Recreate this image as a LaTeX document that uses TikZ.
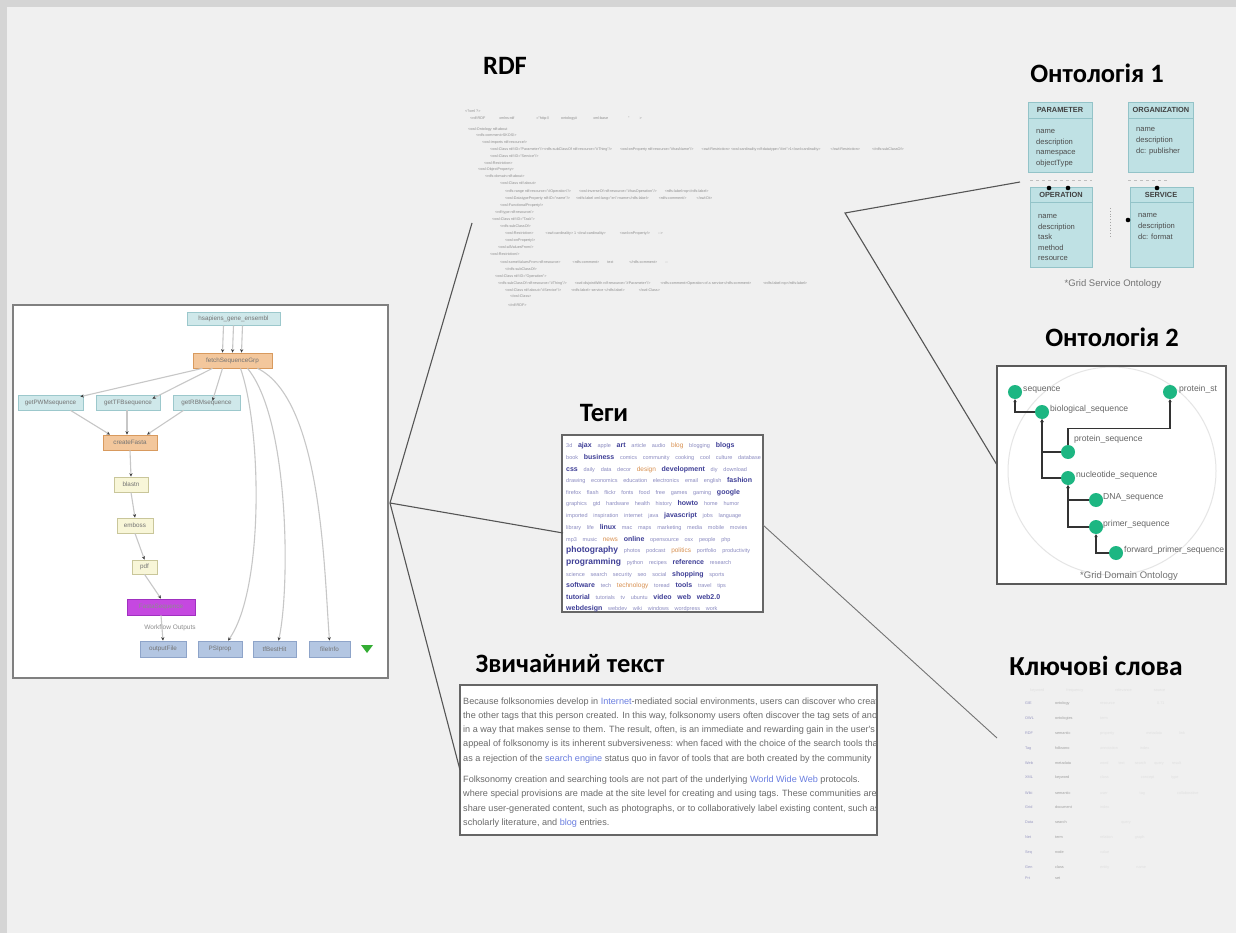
\documentclass[tikz,border=0pt]{standalone}
\usepackage{fontspec}
\setmainfont{Carlito}
\newfontfamily\sans{Liberation Sans}
\usetikzlibrary{arrows.meta}
\definecolor{bgc}{HTML}{F0F0F0}
\definecolor{framec}{HTML}{D5D5D5}
\definecolor{linec}{HTML}{555555}
\definecolor{cyanf}{HTML}{CFE8EA}
\definecolor{cyand}{HTML}{9CC8CC}
\definecolor{orf}{HTML}{F3C79C}
\definecolor{ord}{HTML}{D89A5E}
\definecolor{yelf}{HTML}{F8F6D8}
\definecolor{yeld}{HTML}{C9C69A}
\definecolor{magf}{HTML}{C548E0}
\definecolor{magd}{HTML}{A030C0}
\definecolor{bluf}{HTML}{B3C6E2}
\definecolor{blud}{HTML}{8EA4C9}
\definecolor{umlf}{HTML}{BFE1E4}
\definecolor{umld}{HTML}{93C3C8}
\definecolor{ontg}{HTML}{1DB682}
\definecolor{tagl}{HTML}{8A8AC0}
\definecolor{tagd}{HTML}{3E3E96}
\definecolor{tago}{HTML}{D89050}
\definecolor{linkc}{HTML}{6A7EE0}
\definecolor{txtc}{HTML}{6A6A6A}
\newcommand\tga[1]{{\fontsize{5.5}{5.5}\selectfont\color{tagl}#1}\hspace{3pt}}
\newcommand\tgb[1]{{\fontsize{7}{7}\selectfont\bfseries\color{tagd}#1}\hspace{3pt}}
\newcommand\tgc[1]{{\fontsize{8.5}{8.5}\selectfont\bfseries\color{tagd}#1}\hspace{3pt}}
\newcommand\tgo[1]{{\fontsize{6.5}{6.5}\selectfont\color{tago}#1}\hspace{3pt}}
\newcommand\lnk[1]{{\color{linkc}#1}}
\tikzset{
  title/.style={font=\fontsize{26.5}{30}\selectfont\bfseries, inner sep=0, anchor=base},
  hubline/.style={draw=linec, line width=1.1pt},
  wfnode/.style={draw, line width=0.7pt, inner sep=0, font=\sans\fontsize{6.3}{7}\selectfont, text=black!55},
  wfedge/.style={draw=black!22, line width=1.1pt, -{Stealth[length=3.5pt,width=3.2pt,color=black!75]}},
  uml/.style={draw=umld, fill=umlf, line width=0.8pt},
  umlt/.style={font=\sans\fontsize{7.6}{8}\selectfont, text=black!70, inner sep=0, anchor=base west},
  umlh/.style={font=\sans\bfseries\fontsize{7.4}{8}\selectfont, text=black!75, inner sep=0, anchor=base},
  oedge/.style={draw=black!80, line width=1.3pt, -{Stealth[length=3pt,width=3.5pt]}},
  onode/.style={circle, fill=ontg, minimum size=14pt, inner sep=0},
  olab/.style={font=\sans\fontsize{8.6}{9}\selectfont, text=black!60, inner sep=0, anchor=base west},
  rdft/.style={font=\sans\fontsize{3.7}{4}\selectfont, text=black!45, inner sep=0, anchor=base west},
  kwa/.style={font=\sans\fontsize{3.8}{4}\selectfont, text=blue!40!black!40, inner sep=0, anchor=base west},
  kwb/.style={font=\sans\fontsize{3.8}{4}\selectfont, text=black!38, inner sep=0, anchor=base west},
  kwc/.style={font=\sans\fontsize{3.8}{4}\selectfont, text=black!12, inner sep=0, anchor=base west},
  capt/.style={font=\sans\fontsize{9.5}{10}\selectfont, text=black!55, inner sep=0},
}
\begin{document}
\begin{tikzpicture}[x=1pt,y=-1pt]
\useasboundingbox (0,0) rectangle (1236,933);
\fill[framec] (0,0) rectangle (1236,933);
\fill[bgc] (7,7) rectangle (1236,933);

% ---------- titles ----------
\node[title] (tRDF) at (505,75) {RDF};
\node[title] (tO1) at (1097,83) {Онтологія 1};
\node[title] (tO2) at (1112,346) {Онтологія 2};
\node[title] (tTag) at (604,421) {Теги};
\node[title] (tTxt) at (570,672) {Звичайний текст};
\node[title, font=\fontsize{27.5}{30}\selectfont\bfseries] (tKw) at (1096,675) {Ключові слова};

% ---------- left workflow panel ----------
\node[draw=black!50, fill=white, line width=1.8pt, minimum width=375pt, minimum height=373pt, inner sep=0] (wf) at (200.5,491.5) {};
\node[wfnode, draw=cyand, fill=cyanf, minimum width=93pt, minimum height=13pt] (top) at (233.5,318.5) {hsapiens\_gene\_ensembl};
\node[wfnode, draw=ord, fill=orf, minimum width=79pt, minimum height=15pt] (orng) at (232.5,360.5) {fetchSequenceGrp};
\node[wfnode, draw=cyand, fill=cyanf, minimum width=65pt, minimum height=15pt] (c1) at (50.5,402.5) {getPWMsequence};
\node[wfnode, draw=cyand, fill=cyanf, minimum width=64pt, minimum height=15pt] (c2) at (128,402.5) {getTFBsequence};
\node[wfnode, draw=cyand, fill=cyanf, minimum width=67pt, minimum height=15pt] (c3) at (206.5,402.5) {getRBMsequence};
\node[wfnode, draw=ord, fill=orf, minimum width=54pt, minimum height=15pt] (fasta) at (130,442.5) {createFasta};
\node[wfnode, draw=yeld, fill=yelf, minimum width=34pt, minimum height=15pt] (blast) at (131,484.5) {blastn};
\node[wfnode, draw=yeld, fill=yelf, minimum width=36pt, minimum height=15pt] (emboss) at (135,525.5) {emboss};
\node[wfnode, draw=yeld, fill=yelf, minimum width=25pt, minimum height=14pt] (pdf) at (144.5,567) {pdf};
\node[wfnode, draw=magd, fill=magf, minimum width=68pt, minimum height=16pt, text=black!45] (mag) at (161,607) {FastaSequence};
\node[font=\sans\fontsize{6.5}{7}\selectfont, text=black!45, inner sep=0] (wfo) at (170,628) {Workflow Outputs};
\node[wfnode, draw=blud, fill=bluf, minimum width=46pt, minimum height=16pt] (o1) at (163,649) {outputFile};
\node[wfnode, draw=blud, fill=bluf, minimum width=44pt, minimum height=16pt] (o2) at (220,649) {PSIprop};
\node[wfnode, draw=blud, fill=bluf, minimum width=43pt, minimum height=16pt] (o3) at (274.5,649) {tfBestHit};
\node[wfnode, draw=blud, fill=bluf, minimum width=41pt, minimum height=16pt] (o4) at (329.5,649) {fileInfo};
\fill[green!60!black!80] (361,645) -- (373,645) -- (367,653) -- cycle;

\draw[wfedge] ([xshift=-10pt]top.south) -- ([xshift=-10pt]orng.north);
\draw[wfedge] (top.south) -- (orng.north);
\draw[wfedge] ([xshift=9pt]top.south) -- ([xshift=9pt]orng.north);
\draw[wfedge] ([xshift=-30pt]orng.south) -- ([xshift=-3pt,yshift=-2pt]c1.north east);
\draw[wfedge] ([xshift=-20pt]orng.south) -- ([xshift=-8pt,yshift=-4pt]c2.north east);
\draw[wfedge] ([xshift=-10pt]orng.south) -- ([xshift=6pt,yshift=-6pt]c3.north);
\draw[wfedge] ([xshift=20pt]c1.south) -- ([xshift=-20pt]fasta.north);
\draw[wfedge] ([xshift=-1pt]c2.south) -- ([xshift=-3pt]fasta.north);
\draw[wfedge] ([xshift=-23pt]c3.south) -- ([xshift=17pt]fasta.north);
\draw[wfedge] (fasta.south) -- (blast.north);
\draw[wfedge] (blast.south) -- (emboss.north);
\draw[wfedge] (emboss.south) -- (pdf.north);
\draw[wfedge] (pdf.south) -- (mag.north);
\draw[wfedge] (mag.south) -- (o1.north);
\draw[wfedge] ([xshift=8pt]orng.south) .. controls (262,430) and (264,590) .. ([xshift=8pt]o2.north);
\draw[wfedge] ([xshift=15pt]orng.south) .. controls (290,420) and (290,590) .. ([xshift=4pt]o3.north);
\draw[wfedge] ([xshift=25pt]orng.south) .. controls (322,400) and (324,570) .. (o4.north);

% ---------- RDF text ----------
\foreach \xx/\yy/\tt in {
 465/113/{<?xml ?>},
 470/120/{<rdf:RDF \hspace{12pt} xmlns:rdf \hspace{20pt} ="http:// \hspace{10pt} ontology\# \hspace{14pt} xml:base \hspace{18pt} " \hspace{8pt} >},
 468/131/{<owl:Ontology rdf:about},
 476/137/{<rdfs:comment>SKOS/>},
 482/144/{<owl:imports rdf:resource/>},
 490/151/{<owl:Class rdf:ID="Parameter"/><rdfs:subClassOf rdf:resource="\#Thing"/> \hspace{6pt} <owl:onProperty rdf:resource="\#hasName"/> \hspace{6pt} <owl:Restriction> <owl:cardinality rdf:datatype="\#int">1</owl:cardinality> \hspace{8pt} </owl:Restriction> \hspace{10pt} </rdfs:subClassOf>},
 490/158/{<owl:Class rdf:ID="Service"/>},
 484/165/{<owl:Restriction>},
 478/171/{<owl:ObjectProperty>},
 485/178/{<rdfs:domain rdf:about>},
 500/185/{<owl:Class rdf:about>},
 505/193/{<rdfs:range rdf:resource="\#Operation"/> \hspace{6pt} <owl:inverseOf rdf:resource="\#hasOperation"/> \hspace{6pt} <rdfs:label>op</rdfs:label>},
 505/200/{<owl:DatatypeProperty rdf:ID="name"/> \hspace{4pt} <rdfs:label xml:lang="en">name</rdfs:label> \hspace{8pt} <rdfs:comment/> \hspace{8pt} </owl:Dt>},
 500/207/{<owl:FunctionalProperty/>},
 495/214/{<rdf:type rdf:resource/>},
 492/221/{<owl:Class rdf:ID="Task">},
 500/228/{<rdfs:subClassOf>},
 505/235/{<owl:Restriction> \hspace{10pt} <owl:cardinality> 1 </owl:cardinality> \hspace{12pt} <owl:onProperty/> \hspace{6pt} -->},
 505/242/{<owl:onProperty/>},
 498/249/{<owl:allValuesFrom/>},
 490/256/{<owl:Restriction/>},
 500/263/{<owl:someValuesFrom rdf:resource> \hspace{10pt} <rdfs:comment> \hspace{6pt} text \hspace{14pt} </rdfs:comment> \hspace{6pt} --},
 505/270/{</rdfs:subClassOf>},
 495/277/{<owl:Class rdf:ID="Operation">},
 498/284/{<rdfs:subClassOf rdf:resource="\#Thing"/> \hspace{6pt} <owl:disjointWith rdf:resource="\#Parameter"/> \hspace{8pt} <rdfs:comment>Operation of a service</rdfs:comment> \hspace{10pt} <rdfs:label>op</rdfs:label>},
 505/291/{<owl:Class rdf:about="\#Service"/> \hspace{8pt} <rdfs:label> service </rdfs:label> \hspace{12pt} </owl:Class>},
 510/298/{</owl:Class>},
 508/306/{</rdf:RDF>}}
 {\node[rdft] at (\xx,\yy) {\tt};}
\coordinate (rdfIn) at (472,223);
\coordinate (rdfOut) at (845,213);

% ---------- Ontology 1 ----------
\draw[uml] (1028,102) rectangle (1092,172); \draw[umld] (1028,118) -- (1092,118);
\draw[uml] (1128,102) rectangle (1193,172); \draw[umld] (1128,118) -- (1193,118);
\draw[uml] (1030,187) rectangle (1092,267); \draw[umld] (1030,202) -- (1092,202);
\draw[uml] (1130,187) rectangle (1193,267); \draw[umld] (1130,202) -- (1193,202);
\node[umlh] at (1060,113) {PARAMETER};
\node[umlh] at (1161,113) {ORGANIZATION};
\node[umlh] at (1061,198) {OPERATION};
\node[umlh] at (1161,198) {SERVICE};
\foreach \yy/\tt in {134/name,144.5/description,155/namespace,165.5/objectType}
  {\node[umlt] at (1036,\yy) {\tt};}
\foreach \yy/\tt in {132/name,143/description,154/dc: publisher}
  {\node[umlt] at (1136,\yy) {\tt};}
\foreach \yy/\tt in {219/name,229.5/description,240/task,250.5/method,261/resource}
  {\node[umlt] at (1038,\yy) {\tt};}
\foreach \yy/\tt in {218/name,229/description,240/dc: format}
  {\node[umlt] at (1138,\yy) {\tt};}
\draw[black!25, dashed, line width=0.6pt] (1030,180) -- (1092,180);
\draw[black!25, dashed, line width=0.6pt] (1128,180) -- (1168,180);
\draw[black!35, dotted, line width=0.8pt] (1110,208) -- (1110,237);
\fill[black] (1049,188) circle (2.3pt) (1068,188) circle (2.3pt) (1157,188) circle (2.3pt) (1128,220) circle (2.3pt);
\node[capt] (cap1) at (1113,284) {*Grid Service Ontology};
\coordinate (ont1In) at (1020,182);

% ---------- Ontology 2 ----------
\node[draw=black!65, fill=white, line width=2.2pt, minimum width=229pt, minimum height=218pt, inner sep=0] (ont2) at (1111.5,475) {};
\coordinate (ont2In) at (997,465);
\begin{scope}
\clip (998,367) rectangle (1225,583);
\draw[black!10, line width=1pt] (1112,471) circle (104pt);
\node[onode] (n1) at (1015,392) {};
\node[onode] (n2) at (1042,412) {};
\node[onode] (n3) at (1170,392) {};
\node[onode] (n4) at (1068,452) {};
\node[onode] (n5) at (1068,478) {};
\node[onode] (n6) at (1096,500) {};
\node[onode] (n7) at (1096,527) {};
\node[onode] (n8) at (1116,553) {};
\draw[oedge] (n2.west) -| (n1.south);
\draw[oedge] (n4.west) -| (n2.south);
\draw[oedge] (n5.west) -| (n2.south);
\draw[oedge] (n6.west) -| (n5.south);
\draw[oedge] (n7.west) -| (n5.south);
\draw[oedge] (n8.west) -| (n7.south);
\draw[oedge] (n4.north) -- ++(0,-16) -| (n3.south);
\node[olab] at (1023,391) {sequence};
\node[olab] at (1050,411) {biological\_sequence};
\node[olab] at (1179,391) {protein\_st};
\node[olab] at (1074,441) {protein\_sequence};
\node[olab] at (1076,477) {nucleotide\_sequence};
\node[olab] at (1103,499) {DNA\_sequence};
\node[olab] at (1103,526) {primer\_sequence};
\node[olab] at (1124,552) {forward\_primer\_sequence};
\node[capt] (cap2) at (1129,576) {*Grid Domain Ontology};
\end{scope}

% ---------- tag cloud ----------
\node[draw=black!60, fill=white, line width=1.4pt, minimum width=201pt, minimum height=177pt, inner sep=0] (tags) at (662.5,523.5) {};
\begin{scope}
\clip (563,436) rectangle (762,611);
\foreach \yy/\tt in {
 447/{\tga{3d} \tgb{ajax} \tga{apple} \tgb{art} \tga{article} \tga{audio} \tgo{blog} \tga{blogging} \tgb{blogs}},
 459/{\tga{book} \tgb{business} \tga{comics} \tga{community} \tga{cooking} \tga{cool} \tga{culture} \tga{database}},
 471/{\tgb{css} \tga{daily} \tga{data} \tga{decor} \tgo{design} \tgb{development} \tga{diy} \tga{download}},
 482/{\tga{drawing} \tga{economics} \tga{education} \tga{electronics} \tga{email} \tga{english} \tgb{fashion}},
 494/{\tga{firefox} \tga{flash} \tga{flickr} \tga{fonts} \tga{food} \tga{free} \tga{games} \tga{gaming} \tgb{google}},
 505/{\tga{graphics} \tga{gtd} \tga{hardware} \tga{health} \tga{history} \tgb{howto} \tga{home} \tga{humor}},
 517/{\tga{imported} \tga{inspiration} \tga{internet} \tga{java} \tgb{javascript} \tga{jobs} \tga{language}},
 529/{\tga{library} \tga{life} \tgb{linux} \tga{mac} \tga{maps} \tga{marketing} \tga{media} \tga{mobile} \tga{movies}},
 541/{\tga{mp3} \tga{music} \tgo{news} \tgb{online} \tga{opensource} \tga{osx} \tga{people} \tga{php}},
 552/{\tgc{photography} \tga{photos} \tga{podcast} \tgo{politics} \tga{portfolio} \tga{productivity}},
 564/{\tgc{programming} \tga{python} \tga{recipes} \tgb{reference} \tga{research}},
 576/{\tga{science} \tga{search} \tga{security} \tga{seo} \tga{social} \tgb{shopping} \tga{sports}},
 587/{\tgb{software} \tga{tech} \tgo{technology} \tga{toread} \tgb{tools} \tga{travel} \tga{tips}},
 599/{\tgb{tutorial} \tga{tutorials} \tga{tv} \tga{ubuntu} \tgb{video} \tgb{web} \tgb{web2.0}},
 610/{\tgb{webdesign} \tga{webdev} \tga{wiki} \tga{windows} \tga{wordpress} \tga{work}}}
 {\node[inner sep=0, anchor=base west, font=\sans] at (566,\yy) {\tt};}
\end{scope}

% ---------- plain text ----------
\node[draw=black!60, fill=white, line width=1.8pt, minimum width=417pt, minimum height=150pt, inner sep=0] (txt) at (668.5,760) {};
\begin{scope}
\clip (461,686) rectangle (876,834);
\foreach \yy/\tt in {
 704/{Because folksonomies develop in \lnk{Internet}-mediated social environments, users can discover who created a given tag},
 718/{the other tags that this person created. In this way, folksonomy users often discover the tag sets of another user},
 732/{in a way that makes sense to them. The result, often, is an immediate and rewarding gain in the user's capacity},
 746/{appeal of folksonomy is its inherent subversiveness: when faced with the choice of the search tools that Web sites},
 761/{as a rejection of the \lnk{search engine} status quo in favor of tools that are both created by the community},
 782/{Folksonomy creation and searching tools are not part of the underlying \lnk{World Wide Web} protocols.},
 796/{where special provisions are made at the site level for creating and using tags. These communities are},
 811/{share user-generated content, such as photographs, or to collaboratively label existing content, such as},
 825/{scholarly literature, and \lnk{blog} entries.}}
 {\node[inner sep=0, anchor=base west, font=\sans\fontsize{9.1}{10}\selectfont, text=txtc] at (463,\yy) {\tt};}
\end{scope}

% ---------- keywords ----------
\node[inner sep=0, minimum width=200pt, minimum height=190pt] (kw) at (1115,785) {};
\node[kwc] at (1030,691) {keyword \hspace{20pt} frequency \hspace{30pt} relevance \hspace{20pt} source};
\foreach \yy/\aa/\bb/\cc in {
 704/GIE/ontology/{resource \hspace{40pt} 0.71},
 719/OWL/ontologies/{term},
 734/RDF/semantic/{property \hspace{30pt} metadata \hspace{15pt} link},
 749/Tag/folksono/{annotation \hspace{20pt} index},
 764/Web/metadata/{word \hspace{8pt} text \hspace{8pt} search \hspace{6pt} query \hspace{6pt} result},
 778/XML/keyword/{class \hspace{30pt} concept \hspace{15pt} type},
 794/Wiki/semantic/{user \hspace{30pt} tag \hspace{30pt} collaborative},
 808/Grid/document/{index},
 823/Data/search/{\hspace{20pt} query},
 838/Net/term/{relation \hspace{20pt} graph},
 853/Seq/node/{value},
 868/Gen/class/{entity \hspace{25pt} name},
 879/Prt/set/{}}
 {\node[kwa] at (1025,\yy) {\aa};
  \node[kwb] at (1055,\yy) {\bb};
  \node[kwc] at (1100,\yy) {\cc};}
\coordinate (kwIn) at (997,738);

% ---------- connectors ----------
\coordinate (hub) at (390,503);
\coordinate (tagIn) at (563,533);
\coordinate (tagOut) at (763,525);
\coordinate (txtIn) at (460,770);
\draw[hubline] (hub) -- (rdfIn);
\draw[hubline] (hub) -- (tagIn);
\draw[hubline] (hub) -- (txtIn);
\draw[hubline] (ont1In) -- (rdfOut) -- (ont2In);
\draw[hubline, draw=black!55, line width=0.9pt] (tagOut) -- (kwIn);
\end{tikzpicture}
\end{document}
